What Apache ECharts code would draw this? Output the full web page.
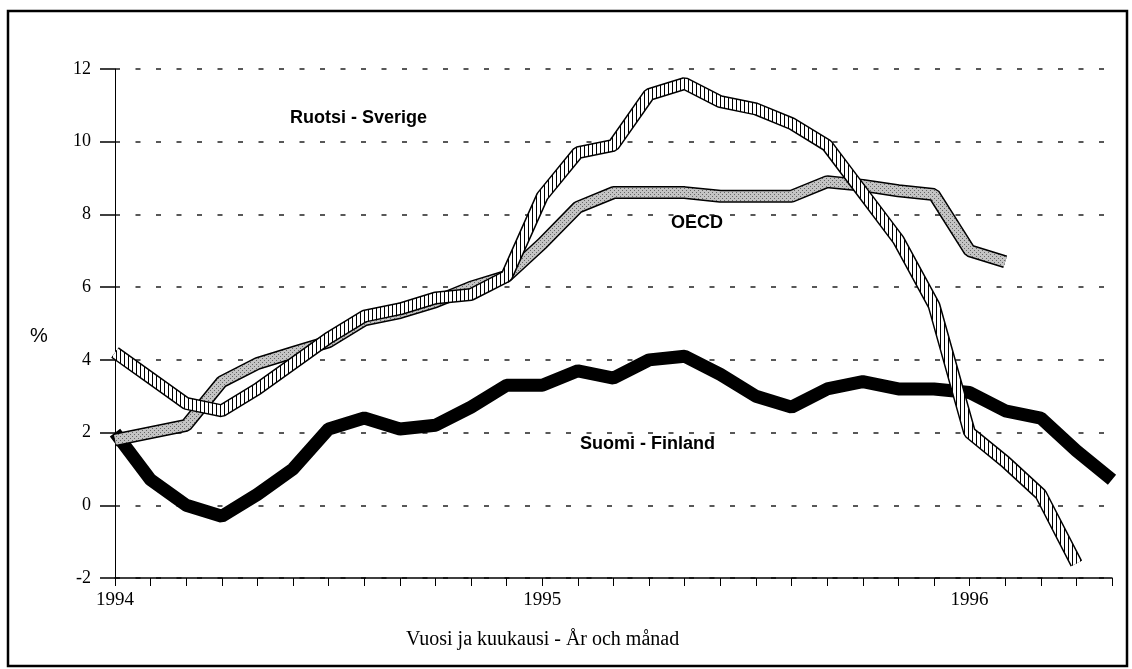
<!DOCTYPE html>
<html>
<head>
<meta charset="utf-8">
<script src="https://cdn.jsdelivr.net/npm/echarts@6/dist/echarts.min.js"></script>
<style>
  html, body { margin: 0; padding: 0; background: #fff; }
  #chart { width: 1132px; height: 669px; }
</style>
</head>
<body>
<div id="chart"></div>
<script>
// months Jan 1994 .. May 1996
const months = [];
for (let y = 1994; y <= 1996; y++) {
    for (let m = 1; m <= 12; m++) {
        if (y === 1996 && m > 5) break;
        months.push(y + '-' + m);
    }
}

const yTicks = [-2, 0, 2, 4, 6, 8, 10, 12];

// Jan 1994 .. May 1996
const finland = [2.0, 0.7, 0.0, -0.3, 0.3, 1.0, 2.1, 2.4, 2.1, 2.2, 2.7, 3.3,
    3.3, 3.7, 3.5, 4.0, 4.1, 3.6, 3.0, 2.7, 3.2, 3.4, 3.2, 3.2,
    3.1, 2.6, 2.4, 1.5, 0.7];

// Jan 1994 .. Apr 1996
const sweden = [4.2, 3.5, 2.8, 2.6, 3.2, 3.9, 4.6, 5.2, 5.4, 5.7, 5.8, 6.3,
    8.5, 9.7, 9.9, 11.3, 11.6, 11.1, 10.9, 10.5, 9.9, 8.6, 7.3, 5.5,
    2.0, 1.2, 0.3, -1.6];

// Jan 1994 .. Feb 1996
const oecd = [1.8, 2.0, 2.2, 3.4, 3.9, 4.2, 4.5, 5.1, 5.3, 5.6, 6.0, 6.3,
    7.2, 8.2, 8.6, 8.6, 8.6, 8.5, 8.5, 8.5, 8.9, 8.8, 8.65, 8.55,
    7.0, 6.7];

function makePattern(draw) {
    const c = document.createElement('canvas');
    c.width = 4; c.height = 4;
    const ctx = c.getContext('2d');
    ctx.fillStyle = '#fff';
    ctx.fillRect(0, 0, 4, 4);
    draw(ctx);
    return { image: c, repeat: 'repeat' };
}

const hatch = makePattern(ctx => {
    ctx.fillStyle = '#000';
    ctx.fillRect(0, 0, 1, 4);
});
const stipple = makePattern(ctx => {
    ctx.fillStyle = '#c4c4c4';
    ctx.fillRect(0, 0, 4, 4);
    ctx.fillStyle = '#666';
    ctx.fillRect(0, 0, 1, 1);
    ctx.fillRect(2, 2, 1, 1);
});

function ribbon(name, data, fill) {
    return [
        {
            name: name + '-edge', type: 'line', data: data, symbol: 'none',
            silent: true, lineStyle: { color: '#000', width: 13 }
        },
        {
            name: name, type: 'line', data: data, symbol: 'none',
            silent: true, lineStyle: { color: fill, width: 10 }
        }
    ];
}

const chart = echarts.init(document.getElementById('chart'));

chart.setOption({
    animation: false,
    backgroundColor: '#fff',
    grid: { left: 115, right: 20, top: 69, bottom: 91 },
    xAxis: {
        type: 'category',
        data: months,
        boundaryGap: false,
        axisLine: { onZero: false, lineStyle: { color: '#000', width: 1.5 } },
        axisTick: { show: true, interval: 0, length: 8, lineStyle: { color: '#000' } },
        axisLabel: {
            interval: (i) => i % 12 === 0,
            formatter: (v) => v.split('-')[0],
            color: '#000', fontFamily: 'Liberation Serif', fontSize: 19, margin: 13
        },
        splitLine: { show: false }
    },
    yAxis: {
        type: 'value',
        min: yTicks[0], max: yTicks[yTicks.length - 1], interval: 2,
        axisLine: { show: true, lineStyle: { color: '#000', width: 1 } },
        axisTick: { show: true, length: 15, lineStyle: { color: '#000', width: 1.5 } },
        axisLabel: { color: '#000', fontFamily: 'Liberation Serif', fontSize: 18, margin: 24 },
        splitLine: { show: true, lineStyle: { color: '#222', width: 1.5, type: [5, 15.5] } }
    },
    series: [
        {
            name: 'Suomi - Finland', type: 'line', data: finland, symbol: 'none',
            silent: true, lineStyle: { color: '#000', width: 13 }
        },
        ...ribbon('OECD', oecd, stipple),
        ...ribbon('Ruotsi - Sverige', sweden, hatch)
    ],
    graphic: [
        {
            type: 'rect', shape: { x: 8, y: 11, width: 1119, height: 655 },
            style: { fill: 'none', stroke: '#000', lineWidth: 2.5 }, z: -1
        },
        {
            type: 'text', left: 30, top: 326,
            style: { text: '%', font: '20px "Liberation Sans"', fill: '#000' }
        },
        {
            type: 'text', left: 290, top: 109,
            style: { text: 'Ruotsi - Sverige', font: 'bold 18px "Liberation Sans"', fill: '#000' }
        },
        {
            type: 'text', left: 671, top: 214,
            style: { text: 'OECD', font: 'bold 18px "Liberation Sans"', fill: '#000' }
        },
        {
            type: 'text', left: 580, top: 435,
            style: { text: 'Suomi - Finland', font: 'bold 18px "Liberation Sans"', fill: '#000' }
        },
        {
            type: 'text', left: 406, top: 630,
            style: { text: 'Vuosi ja kuukausi - År och månad', font: '20px "Liberation Serif"', fill: '#000' }
        }
    ]
});
</script>
</body>
</html>
